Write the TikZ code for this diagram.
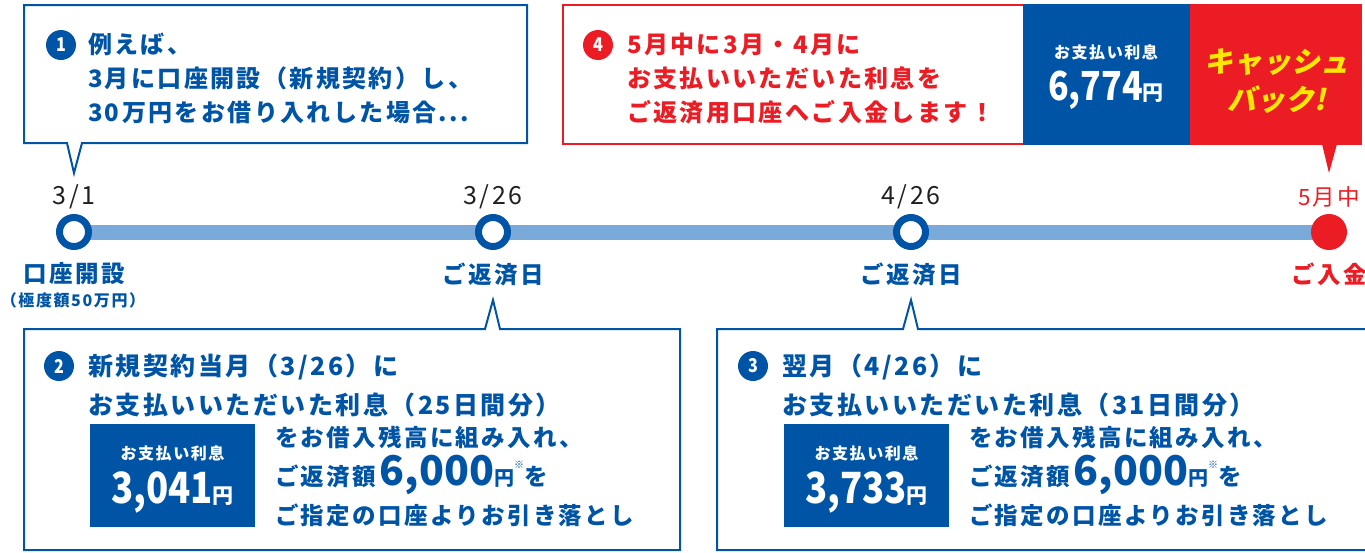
\documentclass[tikz,border=0pt]{standalone}
\usepackage{fontspec}
\setmainfont{Noto Sans CJK JP}[LetterSpace=10]
\newfontfamily\numfont{Noto Sans CJK JP}[FakeStretch=0.85]
\newfontfamily\amountfont{Noto Sans CJK JP}
\newfontfamily\catchfont{Noto Sans CJK JP}[FakeSlant=0.2]
\usetikzlibrary{backgrounds}
\definecolor{acblue}{RGB}{0,84,166}
\definecolor{acbar}{RGB}{122,170,217}
\definecolor{acred}{RGB}{236,28,36}
\definecolor{acyellow}{RGB}{255,232,0}
\definecolor{acdate}{RGB}{35,31,32}

\begin{document}
\begin{tikzpicture}[x=1pt, y=-1pt,
    every node/.style={inner sep=0pt, outer sep=0pt},
    callout/.style={draw=acblue, line width=2pt, line join=miter},
    numdot/.style={circle, fill=acblue, minimum size=30pt, text=white,
      font=\numfont\bfseries\fontsize{19}{19}\selectfont},
    headtext/.style={anchor=west, align=left, text=acblue,
      font=\bfseries\fontsize{24}{34}\selectfont},
    bodytext/.style={anchor=west, align=left, text=acblue,
      font=\bfseries\fontsize{23.5}{39}\selectfont},
    datelabel/.style={text=acdate, font=\fontsize{25}{25}\selectfont},
    daydot/.style={circle, draw=acblue, fill=white, line width=7pt, minimum size=29pt},
    daylabel/.style={text=acblue, font=\bfseries\fontsize{23.5}{23.5}\selectfont},
    paybox/.style={fill=acblue, minimum width=165pt, minimum height=103pt},
    paytitle/.style={text=white, font=\bfseries\fontsize{16}{16}\selectfont},
    payamount/.style={text=white, anchor=base},
  ]
  \useasboundingbox (0,0) rectangle (1365,552);

  % callout 1
  \draw[callout] (24,5) -- (527,5) -- (527,143) -- (82,143) -- (74,173)
    -- (67,143) -- (24,143) -- cycle;
  \node[numdot] (n1) at (61,45) {1};
  \node[headtext] (h1) at (88,78) {例えば、\\3月に口座開設（新規契約）し、\\30万円をお借り入れした場合...};

  % callout 4
  \draw[draw=acred, line width=2pt] (563,5) rectangle (1361,144);
  \fill[acblue] (1023,4) rectangle (1190,145);
  \fill[acred] (1190,4) rectangle (1362,145);
  \fill[acred] (1322,144) -- (1329,173) -- (1337,144) -- cycle;
  \node[numdot, fill=acred] (n4) at (598,45) {4};
  \node[headtext, text=acred] (h4) at (627,79) {5月中に3月・4月に\\お支払いいただいた利息を\\ご返済用口座へご入金します！};
  \node[paytitle] (p4a) at (1106,52) {お支払い利息};
  \node[payamount] (p4b) at (1106,100) {{\numfont\bfseries\fontsize{40}{40}\selectfont 6,774}{\bfseries\fontsize{21}{21}\selectfont 円}};
  \node[text=acyellow, align=center, font=\catchfont\bfseries\fontsize{29}{38}\selectfont] (cb) at (1277,81) {キャッシュ\\バック!};

  % timeline
  \node[datelabel] (d1) at (74,197) {3/1};
  \node[daydot] (s1) at (74,232) {};
  \node[daylabel] (l1) at (74,274) {口座開設};
  \node[text=acblue, font=\bfseries\fontsize{16}{16}\selectfont] (l1b) at (73,300) {（極度額50万円）};

  \node[datelabel] (d2) at (493,197) {3/26};
  \node[daydot] (s2) at (493,232) {};
  \node[daylabel] (l2) at (493,274) {ご返済日};

  \node[datelabel] (d3) at (911,197) {4/26};
  \node[daydot] (s3) at (911,232) {};
  \node[daylabel] (l3) at (911,274) {ご返済日};

  \node[datelabel, text=acred, font=\fontsize{22.5}{22.5}\selectfont] (d4) at (1329,197) {5月中};
  \node[circle, fill=acred, minimum size=36pt] (s4) at (1329,232) {};
  \node[daylabel, text=acred] (l4) at (1329,274) {ご入金};

  \begin{scope}[on background layer]
    \draw[acbar, line width=15pt] (s1.center) -- (s4.center);
  \end{scope}

  % callout 2
  \draw[callout] (24,329) -- (485,329) -- (493,300) -- (500,329) -- (680,329)
    -- (680,550) -- (24,550) -- cycle;
  \node[numdot] (n2) at (59,366) {2};
  \node[headtext, font=\bfseries\fontsize{25}{39}\selectfont] (h2) at (88,385) {新規契約当月（3/26）に\\お支払いいただいた利息（25日間分）};
  \node[paybox] (p2) at (172.5,475.5) {};
  \node[paytitle] (p2a) at (p2.center |- 0,453) {お支払い利息};
  \node[payamount] (p2b) at (p2.center |- 0,503) {{\numfont\bfseries\fontsize{43}{43}\selectfont 3,041}{\bfseries\fontsize{21}{21}\selectfont 円}};
  \node[bodytext] (b2) at (275,476) {をお借入残高に組み入れ、\\ご返済額\,{\amountfont\bfseries\fontsize{41}{41}\selectfont 6,000}{\fontsize{20}{20}\selectfont 円}\raisebox{17pt}{\fontsize{10}{10}\selectfont ※}を\\ご指定の口座よりお引き落とし};

  % callout 3
  \draw[callout] (717,329) -- (903,329) -- (911,300) -- (918,329) -- (1380,329)
    -- (1380,550) -- (717,550) -- cycle;
  \node[numdot] (n3) at (753,366) {3};
  \node[headtext, font=\bfseries\fontsize{25}{39}\selectfont] (h3) at (782,385) {翌月（4/26）に\\お支払いいただいた利息（31日間分）};
  \node[paybox] (p3) at (866.5,475.5) {};
  \node[paytitle] (p3a) at (p3.center |- 0,453) {お支払い利息};
  \node[payamount] (p3b) at (p3.center |- 0,503) {{\numfont\bfseries\fontsize{43}{43}\selectfont 3,733}{\bfseries\fontsize{21}{21}\selectfont 円}};
  \node[bodytext] (b3) at (969,476) {をお借入残高に組み入れ、\\ご返済額\,{\amountfont\bfseries\fontsize{41}{41}\selectfont 6,000}{\fontsize{20}{20}\selectfont 円}\raisebox{17pt}{\fontsize{10}{10}\selectfont ※}を\\ご指定の口座よりお引き落とし};
\end{tikzpicture}
\end{document}
